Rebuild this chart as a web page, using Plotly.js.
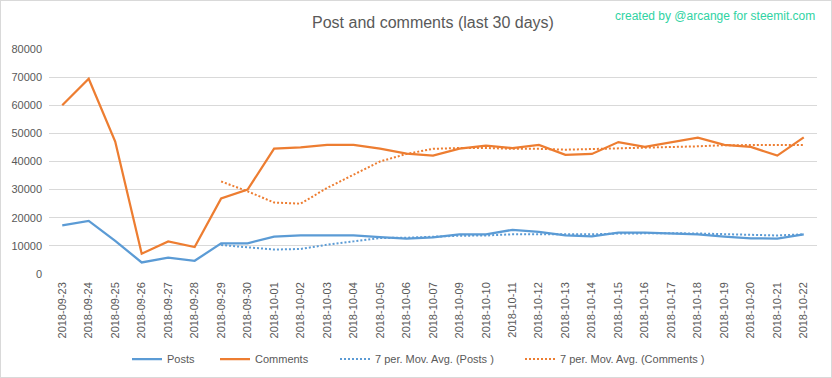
<!DOCTYPE html>
<html>
<head>
<meta charset="utf-8">
<script src="https://cdn.plot.ly/plotly-3.0.1.min.js"></script>
<style>
html,body{margin:0;padding:0;background:#fff;}
#wrap{position:relative;width:832px;height:378px;}
#chart{width:832px;height:378px;}
#frame{position:absolute;left:0;top:0;width:832px;height:378px;box-sizing:border-box;border:1px solid #d9d9d9;pointer-events:none;}
</style>
</head>
<body>
<div id="wrap"><div id="chart"></div><div id="frame"></div></div>
<script>
// 2018-10-08 is absent in the source chart: 29 categories
var dates = ["2018-09-23","2018-09-24","2018-09-25","2018-09-26","2018-09-27","2018-09-28","2018-09-29","2018-09-30",
"2018-10-01","2018-10-02","2018-10-03","2018-10-04","2018-10-05","2018-10-06","2018-10-07","2018-10-09","2018-10-10",
"2018-10-11","2018-10-12","2018-10-13","2018-10-14","2018-10-15","2018-10-16","2018-10-17","2018-10-18","2018-10-19",
"2018-10-20","2018-10-21","2018-10-22"];
var posts = [17300,18900,11800,4100,5800,4700,10900,10900,13300,13700,13700,13700,13100,12600,13000,14100,14100,15700,15000,13700,13400,14700,14700,14400,14100,13300,12700,12600,14100];
var comments = [60000,69400,47100,7200,11600,9600,26900,30000,44600,45000,45900,45900,44600,42800,42100,44600,45600,44800,45900,42400,42700,46900,45200,46800,48500,45900,45200,42100,48600];
var postsMA = [null,null,null,null,null,null,10300,9600,8700,8900,10400,11600,12800,12900,13300,13600,13700,14100,14100,14100,14100,14400,14500,14500,14400,14100,13900,13700,14100];
var commentsMA = [null,null,null,null,null,null,32900,29400,25400,25000,30600,35300,40000,42700,44500,44800,44800,44500,44500,44200,44400,44700,45000,45200,45400,45800,45900,45900,45900];
var yTicks = [0,10000,20000,30000,40000,50000,60000,70000,80000];
var seriesNames = ['Posts','Comments','7 per. Mov. Avg. (Posts )','7 per. Mov. Avg. (Comments )'];

var gray = '#595959';
var blue = '#5b9bd5', orange = '#ed7d31';
var L = 49, W = 768, T = 49, B = 104;
var traces = [
 {x:dates, y:posts, name:seriesNames[0], legend:'legend', type:'scatter', mode:'lines', line:{color:blue,width:2.25}},
 {x:dates, y:comments, name:seriesNames[1], legend:'legend2', type:'scatter', mode:'lines', line:{color:orange,width:2.25}},
 {x:dates, y:postsMA, name:seriesNames[2], legend:'legend3', type:'scatter', mode:'lines', line:{color:blue,width:2,dash:'2px,2px'}},
 {x:dates, y:commentsMA, name:seriesNames[3], legend:'legend4', type:'scatter', mode:'lines', line:{color:orange,width:2,dash:'2px,2px'}}
];
function leg(xpx){
  return {orientation:'h', xref:'container', yref:'container', x:xpx/832, xanchor:'left', y:(378-359)/378, yanchor:'middle', font:{size:11, color:gray}, bgcolor:'rgba(0,0,0,0)', borderwidth:0};
}
var layout = {
 width:832, height:378,
 margin:{l:L, r:832-L-W, t:T, b:B},
 paper_bgcolor:'#fff', plot_bgcolor:'#fff',
 font:{family:'"Liberation Sans", Arial, sans-serif', color:gray, size:11},
 title:{text:'Post and comments (last 30 days)', font:{size:16, color:gray}, x:0.5, xanchor:'center', y:0.94, yanchor:'middle', xref:'paper'},
 showlegend:true,
 legend:leg(127), legend2:leg(215), legend3:leg(335), legend4:leg(520),
 xaxis:{type:'category', range:[-0.5, dates.length-0.5], tickangle:-90, showgrid:false, showline:false, zeroline:false, ticks:'', ticklabelstandoff:5, tickfont:{size:11, color:gray}, automargin:false},
 yaxis:{range:[0,80000], tickvals:yTicks, ticktext:yTicks.map(String), showgrid:true, gridcolor:'#d9d9d9', gridwidth:1, zeroline:false, showline:false, ticks:'', ticklabelstandoff:6, tickfont:{size:11, color:gray}, automargin:false},
 annotations:[{text:'created by @arcange for steemit.com', xref:'paper', yref:'paper', x:1.0, xanchor:'right', y:1.148, yanchor:'middle', showarrow:false, font:{size:12, color:'#2fd3a3'}}]
};
Plotly.newPlot('chart', traces, layout, {displayModeBar:false, staticPlot:true});
</script>
</body>
</html>
